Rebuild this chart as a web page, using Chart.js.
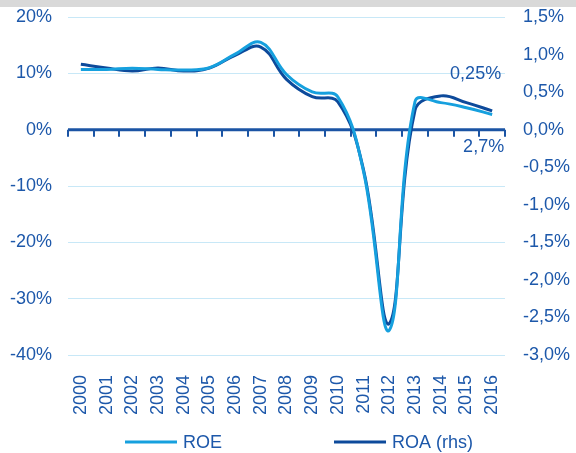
<!DOCTYPE html>
<html>
<head>
<meta charset="utf-8">
<script src="https://cdn.jsdelivr.net/npm/chart.js@4"></script>
<style>
  html, body { margin: 0; padding: 0; background: #fff; }
  #wrap { position: relative; width: 576px; height: 453px; }
  #topbar { position: absolute; left: 0; top: 0; width: 576px; height: 7px; background: #d9d9d9; }
</style>
</head>
<body>
<div id="wrap">
  <canvas id="roeChart"></canvas>
  <div id="topbar"></div>
</div>
<script>
const years = ["2000", "2001", "2002", "2003", "2004", "2005", "2006", "2007", "2008",
               "2009", "2010", "2011", "2012", "2013", "2014", "2015", "2016"];
const roe = [10.7, 10.7, 10.9, 10.7, 10.6, 11.0, 13.4, 15.5, 9.8, 6.7, 5.8, -7.5, -35.6, 5.0, 4.8, 3.9, 2.7];
const roa = [0.87, 0.82, 0.78, 0.82, 0.78, 0.82, 0.99, 1.10, 0.67, 0.44, 0.37, -0.54, -2.58, 0.26, 0.45, 0.36, 0.25];
const leftTicks = [-40, -30, -20, -10, 0, 10, 20];
const rightTicks = [-3, -2.5, -2, -1.5, -1, -0.5, 0, 0.5, 1, 1.5];

const lightBlue = "#16a0de";
const darkBlue = "#0d4a9b";
const textBlue = "#1d58aa";
const font = { family: "'Liberation Sans', Arial, sans-serif", size: 18 };

function comma(v, d) {
    return v.toFixed(d).replace(".", ",") + "%";
}

// zero line with small tick marks, drawn under the series
const zeroAxis = {
    id: "zeroAxis",
    beforeDatasetsDraw(chart) {
        const { ctx, chartArea, scales } = chart;
        const y0 = scales.y.getPixelForValue(0);
        const step = scales.x.getPixelForValue(1) - scales.x.getPixelForValue(0);
        ctx.save();
        ctx.strokeStyle = "#1b54a4";
        ctx.lineWidth = 3;
        ctx.beginPath();
        ctx.moveTo(chartArea.left, y0);
        ctx.lineTo(chartArea.right, y0);
        ctx.stroke();
        ctx.lineWidth = 2;
        for (let i = 0; i <= years.length; i++) {
            const x = Math.round(scales.x.getPixelForValue(0) - step / 2 + i * step);
            ctx.beginPath();
            ctx.moveTo(x, y0);
            ctx.lineTo(x, y0 + 7);
            ctx.stroke();
        }
        ctx.restore();
    }
};

// end labels and the legend
const extras = {
    id: "extras",
    afterDraw(chart) {
        const { ctx } = chart;
        ctx.save();
        ctx.font = font.size + "px " + font.family;
        ctx.fillStyle = textBlue;
        ctx.textBaseline = "middle";
        ctx.textAlign = "right";
        const last = years.length - 1;
        const pRoa = chart.getDatasetMeta(1).data[last];
        const pRoe = chart.getDatasetMeta(0).data[last];
        ctx.fillText(comma(roa[last], 2), pRoa.x + 9, pRoa.y - 37);
        ctx.fillText(comma(roe[last], 1), pRoe.x + 12, pRoe.y + 33);

        ctx.textAlign = "left";
        let x = 125;
        const y = 442;
        chart.data.datasets.forEach(ds => {
            ctx.fillStyle = ds.borderColor;
            ctx.fillRect(x, y - 1.5, 52, 3);
            ctx.fillStyle = textBlue;
            ctx.fillText(ds.label, x + 58, y + 1);
            x += 58 + ctx.measureText(ds.label).width + 112;
        });
        ctx.restore();
    }
};

function noPad(s) {
    s.paddingTop = 0;
    s.paddingBottom = 0;
}

new Chart(document.getElementById("roeChart").getContext("2d"), {
    type: "line",
    data: {
        labels: years,
        datasets: [{
            label: "ROE",
            data: roe,
            yAxisID: "y",
            borderColor: lightBlue,
            backgroundColor: lightBlue,
            borderWidth: 3,
            pointRadius: 0,
            tension: 0.4,
            fill: false
        }, {
            label: "ROA (rhs)",
            data: roa,
            yAxisID: "y1",
            borderColor: darkBlue,
            backgroundColor: darkBlue,
            borderWidth: 3,
            pointRadius: 0,
            tension: 0.4,
            fill: false
        }]
    },
    options: {
        responsive: true,
        maintainAspectRatio: false,
        animation: false,
        layout: { padding: { top: 17, left: 0, right: 0, bottom: 0 } },
        plugins: { legend: { display: false }, tooltip: { enabled: false } },
        scales: {
            x: {
                offset: true,
                grid: { display: false },
                border: { display: false },
                ticks: {
                    color: textBlue, font: font, minRotation: 90, maxRotation: 90,
                    autoSkip: false, padding: 12
                },
                afterFit(s) { s.height = 98; s.paddingLeft = 0; s.paddingRight = 0; }
            },
            y: {
                position: "left",
                min: leftTicks[0],
                max: leftTicks[leftTicks.length - 1],
                afterBuildTicks(s) { s.ticks = leftTicks.map(v => ({ value: v })); },
                grid: { color: "#c8e8f7", lineWidth: 1, drawTicks: false },
                border: { display: false },
                ticks: { color: textBlue, font: font, padding: 16, callback: v => v + "%" },
                afterFit(s) { s.width = 68; noPad(s); }
            },
            y1: {
                position: "right",
                min: rightTicks[0],
                max: rightTicks[rightTicks.length - 1],
                afterBuildTicks(s) { s.ticks = rightTicks.map(v => ({ value: v })); },
                grid: { drawOnChartArea: false, drawTicks: false },
                border: { display: false },
                ticks: { color: textBlue, font: font, padding: 18, callback: v => comma(v, 1) },
                afterFit(s) { s.width = 71; noPad(s); }
            }
        }
    },
    plugins: [zeroAxis, extras]
});
</script>
</body>
</html>
